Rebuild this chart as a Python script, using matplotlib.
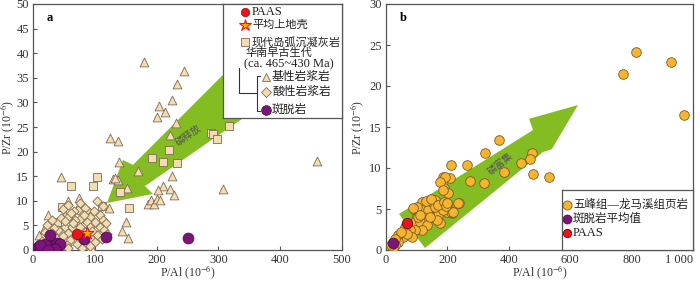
import matplotlib.pyplot as plt
from matplotlib.patches import Polygon

plt.rcParams['font.family'] = ['Liberation Serif', 'Noto Sans CJK SC']
plt.rcParams['mathtext.fontset'] = 'stix'

# ---- panel a data (P/Al, P/Zr) ----
tri_x = [180, 244, 233, 225, 204, 214, 201, 231, 222, 125, 137, 139, 170, 45, 129, 137, 133,
         152, 225, 210, 202, 222, 228, 307, 460, 186, 191, 196, 201, 206, 74, 74, 56, 24, 151,
         144, 154, 94, 10, 123, 52, 35, 18, 66]
tri_y = [38.2, 36.4, 33.7, 30.5, 29.3, 28.0, 27.0, 25.8, 23.4, 22.8, 22.2, 17.9, 16.1, 14.8, 14.4,
         14.2, 14.6, 12.6, 15.0, 13.0, 12.2, 12.4, 11.2, 12.4, 18.1, 9.3, 10.2, 9.3, 10.4, 10.2,
         10.6, 9.1, 9.9, 7.1, 5.7, 3.9, 2.4, 0.6, 3.0, 8.5, 7.2, 5.0, 4.2, 5.5]

sq_x = [220, 193, 210, 233, 288, 292, 298, 317, 141, 104, 97, 62, 112, 155, 47, 39]
sq_y = [20.3, 18.7, 17.9, 17.7, 23.8, 23.6, 22.6, 25.2, 11.8, 14.8, 13.0, 13.0, 8.9, 8.6, 8.7, 5.7]

dia_x = [103, 88, 73, 57, 76, 92, 108, 114, 100, 87, 52, 63, 76, 92, 108, 41, 57, 103, 111, 95,
         60, 36, 28, 55, 71, 57, 19, 23, 31, 48, 57, 76, 84, 66, 45, 68, 82, 98, 115, 120, 84, 70,
         48, 65, 96, 80, 88, 100, 45, 38, 34, 113, 80, 92, 25, 15, 62, 118, 30, 52]
dia_y = [9.9, 8.1, 8.1, 6.7, 6.3, 6.7, 7.1, 6.1, 5.7, 5.7, 4.7, 4.7, 4.7, 4.7, 4.7, 4.1, 3.5, 3.0,
         2.2, 2.2, 2.0, 2.6, 2.0, 1.0, 1.2, 0.4, 3.7, 5.1, 6.1, 8.3, 9.1, 9.5, 8.5, 8.0, 6.5, 6.0,
         7.2, 8.0, 4.0, 3.2, 3.6, 3.0, 2.8, 5.5, 3.8, 2.0, 1.2, 1.6, 1.5, 0.8, 4.5, 9.0, 0.5, 0.8,
         3.0, 1.8, 7.5, 5.5, 3.5, 5.8]

pur_x = [5, 8, 12, 15, 18, 21, 24, 27, 30, 33, 36, 39, 41, 44, 19, 11, 35, 25, 27, 82, 118, 250]
pur_y = [0.3, 0.6, 0.3, 0.9, 0.4, 0.7, 1.1, 0.4, 1.0, 0.6, 1.2, 1.5, 0.8, 1.3, 1.2, 1.0, 0.2, 0.1,
         3.1, 2.3, 2.7, 2.5]

paas_a = (71, 3.3)
ucc_a = (87, 3.5)

# ---- panel b data ----
sh_x = [772, 814, 928, 970, 368, 322, 212, 264, 274, 319, 384, 440, 476, 469, 479, 531,
        186, 182, 208, 189, 202, 192, 176, 238, 215, 198, 176, 160, 153, 134, 117, 94, 120, 137,
        153, 169, 176, 198, 212, 218, 121, 100, 88, 111, 134, 117, 94, 78, 62, 85, 55, 39, 39,
        29, 23, 101, 150, 104, 166, 186, 160, 143, 130, 145, 170, 190, 195, 88, 110, 70, 48, 30,
        15, 186, 199, 235]
sh_y = [21.5, 24.1, 22.9, 16.5, 13.4, 11.8, 10.4, 10.4, 8.4, 8.2, 9.5, 10.6, 11.8, 11.1, 9.3, 8.9,
        8.9, 8.3, 8.8, 7.6, 7.0, 8.9, 8.3, 5.7, 4.5, 5.6, 4.9, 6.1, 5.2, 5.7, 5.9, 4.9, 4.9, 4.9,
        4.0, 4.3, 3.3, 4.6, 4.6, 4.6, 4.0, 4.0, 3.3, 3.4, 3.0, 2.4, 2.4, 2.4, 2.8, 1.6, 1.6, 1.8,
        1.0, 0.6, 0.3, 5.2, 5.9, 4.0, 3.7, 4.9, 5.2, 4.0, 6.0, 6.2, 5.5, 5.8, 5.4, 5.1, 4.3, 2.0,
        2.2, 1.3, 0.6, 7.3, 5.7, 5.7]
ben_b = (23, 0.8)
paas_b = (68, 3.3)

# arrow outlines (data units)
arr_a_x = [119.7, 145.5, 161.8, 399.7, 480.6, 181.2, 194.0]
arr_a_y = [9.55, 18.3, 17.3, 47.2, 39.0, 13.0, 11.4]
arr_b_x = [42.3, 478.8, 466.0, 625.4, 540.0, 511.4, 127.0]
arr_b_y = [4.39, 14.63, 16.0, 17.68, 12.3, 11.95, 0.24]

tan = '#f4dcb2'
tan_edge = '#7d6b55'
purple = '#7b1578'
orange = '#f7b52e'
red = '#e8161c'
green = '#84bd22'
spine_c = '#555555'
txt_c = '#222222'

fig = plt.figure(figsize=(7, 2.82), dpi=100)
ax1 = fig.add_axes([33/700, 32/282, 309/700, 246/282])
ax2 = fig.add_axes([386/700, 32/282, 307/700, 246/282])

for ax in (ax1, ax2):
    for s in ax.spines.values():
        s.set_color(spine_c)
        s.set_linewidth(0.9)
    ax.tick_params(direction='in', length=3, width=0.8, color=spine_c, labelsize=9,
                   labelcolor='#333333', top=False, right=False, pad=3)

# panel a
ax1.add_patch(Polygon(list(zip(arr_a_x, arr_a_y)), closed=True, fc=green, ec='none', zorder=1))
ax1.text(251, 23.4, '磷释放', rotation=35, fontsize=7, color='#555555',
         family=['Noto Sans CJK SC'], ha='center', va='center', zorder=2)
ax1.scatter(tri_x, tri_y, marker='^', s=40, c=tan, edgecolors=tan_edge, linewidths=0.6, zorder=3)
ax1.scatter(sq_x, sq_y, marker='s', s=30, c=tan, edgecolors=tan_edge, linewidths=0.6, zorder=3)
ax1.scatter(dia_x, dia_y, marker='D', s=22, c=tan, edgecolors=tan_edge, linewidths=0.6, zorder=4)
ax1.scatter(pur_x, pur_y, marker='o', s=62, c=purple, edgecolors='#4a0a48', linewidths=0.5, zorder=5)
ax1.scatter([paas_a[0]], [paas_a[1]], marker='o', s=55, c=red, edgecolors='#a00000', linewidths=0.5, zorder=6)
ax1.scatter([ucc_a[0]], [ucc_a[1]], marker='*', s=90, c='#f8b000', edgecolors=red, linewidths=0.8, zorder=6)
ax1.set_xlim(0, 500)
ax1.set_ylim(0, 50)
ax1.set_xticks(range(0, 501, 100))
ax1.set_yticks(range(0, 51, 5))
ax1.text(0.045, 0.945, 'a', transform=ax1.transAxes, fontsize=9, fontweight='bold', va='center')

# panel b
ax2.add_patch(Polygon(list(zip(arr_b_x, arr_b_y)), closed=True, fc=green, ec='none', zorder=1))
ax2.text(371, 10.6, '磷富集', rotation=40, fontsize=7, color='#555555',
         family=['Noto Sans CJK SC'], ha='center', va='center', zorder=2)
ax2.scatter(sh_x, sh_y, marker='o', s=48, c=orange, edgecolors='#7a5a2a', linewidths=0.6, zorder=3)
ax2.scatter([ben_b[0]], [ben_b[1]], marker='o', s=60, c=purple, edgecolors='#4a0a48', linewidths=0.5, zorder=5)
ax2.scatter([paas_b[0]], [paas_b[1]], marker='o', s=55, c=red, edgecolors='#700000', linewidths=0.6, zorder=5)
ax2.set_xlim(0, 1000)
ax2.set_ylim(0, 30)
ax2.set_xticks(range(0, 1001, 200))
ax2.set_xticklabels(['0', '200', '400', '600', '800', '1 000'])
ax2.get_xticklabels()[-1].set_horizontalalignment('right')
ax2.set_yticks(range(0, 31, 5))
ax2.text(0.045, 0.945, 'b', transform=ax2.transAxes, fontsize=9, fontweight='bold', va='center')

# axis titles; ylabel x is the right edge of the rotated text in px
for ax, left, w, ylx in ((ax1, 33, 309, 16), (ax2, 386, 307, 366)):
    ax.set_xlabel('P/Al (10$^{-6}$)', fontsize=8.5, color='#333333')
    ax.xaxis.set_label_coords(0.5, -14/246)
    ax.set_ylabel('P/Zr (10$^{-6}$)', fontsize=8.5, color='#333333')
    ax.yaxis.set_label_coords((ylx - left) / w, 0.5)

# legend a drawn in pixel space
lg = fig.add_axes([223/700, (282-118)/282, 119/700, 114/282])
lg.set_xlim(223, 342)
lg.set_ylim(118, 4)
lg.set_xticks([])
lg.set_yticks([])
for s in lg.spines.values():
    s.set_color(spine_c)
    s.set_linewidth(0.9)
lg.plot(245, 12, 'o', ms=6, mfc=red, mec='#a00000', mew=0.5)
lg.plot(245, 25, '*', ms=9, mfc='#f8b000', mec=red, mew=0.8)
lg.plot(245, 42, 's', ms=5.5, mfc=tan, mec=tan_edge, mew=0.6)
lg.plot(266, 77, '^', ms=6, mfc=tan, mec=tan_edge, mew=0.6)
lg.plot(266, 92, 'D', ms=4.8, mfc=tan, mec=tan_edge, mew=0.6)
lg.plot(266, 110, 'o', ms=7, mfc=purple, mec='#4a0a48', mew=0.5)
lg.plot([239, 239, 257], [68, 93, 93], color='#333333', lw=0.8)
lg.plot([260, 257, 257, 260], [76, 76, 111, 111], color='#333333', lw=0.8)
fs = 8
lg.text(252, 12, 'PAAS', fontsize=9, va='center', color=txt_c)
lg.text(252, 25, '平均上地壳', fontsize=fs, va='center', color=txt_c)
lg.text(252, 42, '现代岛弧沉凝灰岩', fontsize=fs, va='center', color=txt_c)
lg.text(246, 53, '华南早古生代', fontsize=fs, va='center', color=txt_c)
lg.text(244, 64, '(ca. 465~430 Ma)', fontsize=9, va='center', color=txt_c)
lg.text(272, 77, '基性岩浆岩', fontsize=8.5, va='center', color=txt_c)
lg.text(272, 92, '酸性岩浆岩', fontsize=8.5, va='center', color=txt_c)
lg.text(272, 110, '斑脱岩', fontsize=8.5, va='center', color=txt_c)

lg2 = fig.add_axes([562/700, 32/282, 131/700, 60/282])
lg2.set_xlim(562, 693)
lg2.set_ylim(252, 192)
lg2.set_xticks([])
lg2.set_yticks([])
for s in lg2.spines.values():
    s.set_color(spine_c)
    s.set_linewidth(0.9)
lg2.plot(567, 207, 'o', ms=6.5, mfc=orange, mec='#7a5a2a', mew=0.6, clip_on=False)
lg2.plot(567, 221, 'o', ms=6.5, mfc=purple, mec='#4a0a48', mew=0.5, clip_on=False)
lg2.plot(567, 235, 'o', ms=6, mfc=red, mec='#700000', mew=0.6, clip_on=False)
lg2.text(573, 207, '五峰组—龙马溪组页岩', fontsize=8.3, va='center', color=txt_c)
lg2.text(573, 221, '斑脱岩平均值', fontsize=8.3, va='center', color=txt_c)
lg2.text(573, 235, 'PAAS', fontsize=9, va='center', color=txt_c)

fig.savefig('out.png', dpi=100)
